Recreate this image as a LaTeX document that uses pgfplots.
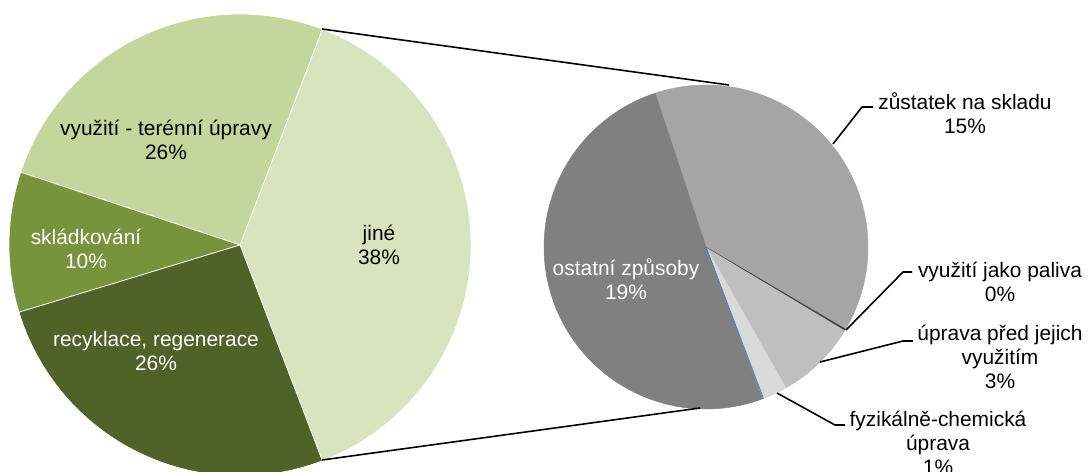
\documentclass[border=0pt]{standalone}
\usepackage{fontspec}
\setmainfont{Liberation Sans}
\usepackage{pgfplots}
\pgfplotsset{compat=1.18}
\definecolor{cJine}{HTML}{D7E4BD}
\definecolor{cTeren}{HTML}{C3D69B}
\definecolor{cSklad}{HTML}{77933C}
\definecolor{cRecykl}{HTML}{4F6228}
\definecolor{cOstatni}{HTML}{808080}
\definecolor{cZustatek}{HTML}{A5A5A5}
\definecolor{cPaliva}{HTML}{404040}
\definecolor{cUprava}{HTML}{BFBFBF}
\definecolor{cFyzik}{HTML}{D9D9D9}
\definecolor{cBlue}{HTML}{4F81BD}
\tikzset{lbl/.style={font=\fontsize{21}{24}\selectfont, align=center, inner sep=0pt}}

% values (% of total)
\def\vJine{38.4}\def\vTeren{25.7}\def\vSklad{9.8}\def\vRecykl{26.1}
\def\vZustatek{14.8}\def\vPaliva{0.05}\def\vUprava{3.15}\def\vFyzik{0.97}\def\vOstatni{19.43}

% left pie angles
\pgfmathsetmacro\aA{-\vJine*1.8}
\pgfmathsetmacro\aB{\vJine*1.8}
\pgfmathsetmacro\aC{\aB+\vTeren*3.6}
\pgfmathsetmacro\aD{\aC+\vSklad*3.6}
\pgfmathsetmacro\aE{\aD+\vRecykl*3.6}
% right pie angles
\pgfmathsetmacro\sc{360/(\vZustatek+\vPaliva+\vUprava+\vFyzik+\vOstatni)}
\pgfmathsetmacro\bA{108.3}
\pgfmathsetmacro\bB{\bA-\vZustatek*\sc}
\pgfmathsetmacro\bC{\bB-\vPaliva*\sc}
\pgfmathsetmacro\bD{\bC-\vUprava*\sc}
\pgfmathsetmacro\bE{\bD-\vFyzik*\sc}
\pgfmathsetmacro\bF{\bE-\vOstatni*\sc}

\newcommand{\slice}[8]{%
  \addplot[fill=#6, draw=#7, line width=#8, domain=#4:#5, samples=90]
    ({#1+#3*cos(x)},{#2-#3*sin(x)}) -- (axis cs:#1,#2) -- cycle;
}

\begin{document}
\begin{tikzpicture}
\useasboundingbox (0,0) rectangle (1089bp,472bp);
\begin{axis}[
  at={(0,0)}, anchor=south west,
  scale only axis, width=1089bp, height=472bp,
  xmin=0, xmax=1089, ymin=0, ymax=472, y dir=reverse,
  hide axis, clip=false,
]
% left pie (center 240,245, r 231)
\slice{240}{245}{231}{\aA}{\aB}{cJine}{white}{0.7pt}
\slice{240}{245}{231}{\aB}{\aC}{cTeren}{white}{0.7pt}
\slice{240}{245}{231}{\aC}{\aD}{cSklad}{white}{0.7pt}
\slice{240}{245}{231}{\aD}{\aE}{cRecykl}{white}{0.7pt}
% right pie (center 706,247, r 162)
\slice{706}{247}{162}{\bB}{\bA}{cZustatek}{cZustatek}{0.5pt}
\slice{706}{247}{162}{\bD}{\bC}{cUprava}{cUprava}{0.5pt}
\slice{706}{247}{162}{\bE}{\bD}{cFyzik}{cFyzik}{0.5pt}
\slice{706}{247}{162}{\bF}{\bE}{cOstatni}{cOstatni}{0.5pt}
\slice{706}{247}{162}{\bC}{\bB}{cPaliva}{cPaliva}{0.2pt}
\addplot[cBlue, line width=0.8pt] coordinates {(706,247) (763.5,398.5)};
% connectors
\addplot[black, line width=1.6pt] coordinates {(322,29) (729,85)};
\addplot[black, line width=1.6pt] coordinates {(322,460) (700,408)};
% leader lines
\addplot[black, line width=1.6pt] coordinates {(833,144) (862,107) (873,107)};
\addplot[black, line width=1.6pt] coordinates {(846,330) (903,272) (912,272)};
\addplot[black, line width=1.6pt] coordinates {(820,362) (903,341) (913,341)};
\addplot[black, line width=1.6pt] coordinates {(777,393) (835,425) (845,425)};
% labels
\node[lbl] at (axis cs:166,140) {využití - terénní úpravy\\26\%};
\node[lbl, white] at (axis cs:86,249) {skládkování\\10\%};
\node[lbl, white] at (axis cs:156,351) {recyklace, regenerace\\26\%};
\node[lbl] at (axis cs:379,245) {jiné\\38\%};
\node[lbl, white] at (axis cs:626,279) {ostatní způsoby\\19\%};
\node[lbl] at (axis cs:965,113) {zůstatek na skladu\\15\%};
\node[lbl] at (axis cs:1000,282) {využití jako paliva\\0\%};
\node[lbl] at (axis cs:1000,357) {úprava před jejich\\využitím\\3\%};
\node[lbl] at (axis cs:938,443) {fyzikálně-chemická\\úprava\\1\%};
\end{axis}
\end{tikzpicture}
\end{document}
